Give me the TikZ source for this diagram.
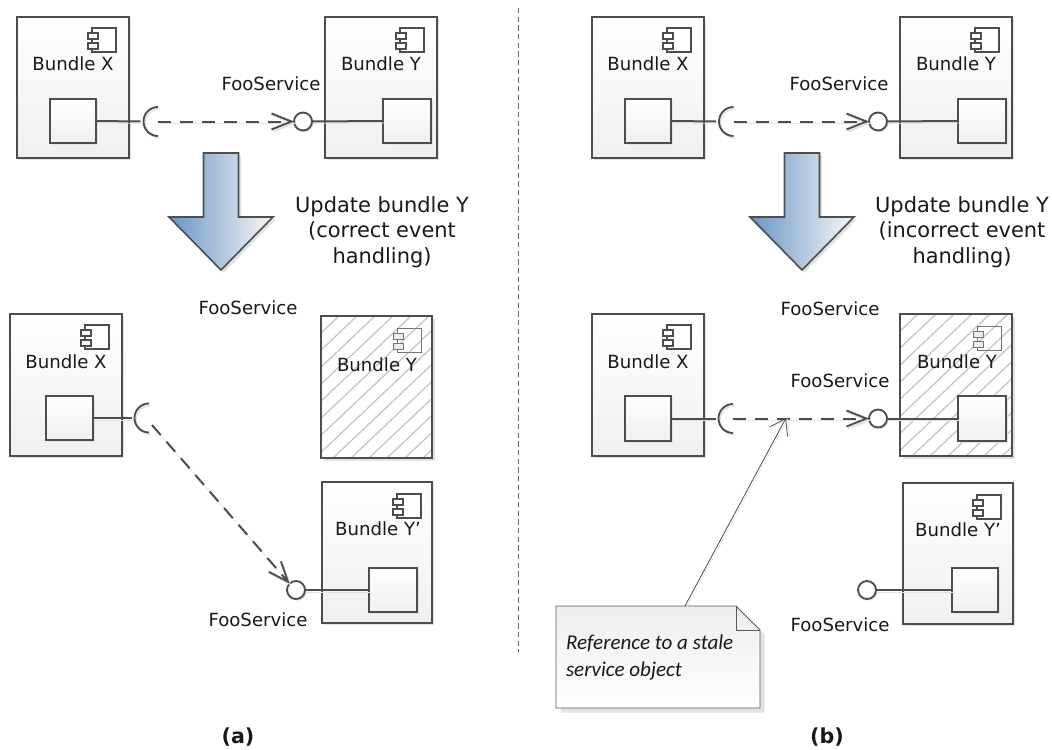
\documentclass[tikz,border=0pt]{standalone}
\usepackage{fontspec}
\setmainfont{DejaVu Sans}
\newfontfamily\notefont{Carlito}
\usetikzlibrary{arrows.meta,shadows}
\definecolor{ink}{HTML}{4D4D4D}
\definecolor{shadowc}{HTML}{E2E2E2}
\tikzset{
  x=0.75pt,y=-0.75pt,
  every node/.style={inner sep=0pt,outer sep=0pt,text=black!90},
  lbl/.style={font=\fontsize{13.6}{16}\selectfont},
  biglbl/.style={font=\fontsize{15.7}{18.5}\selectfont},
  uml/.style={draw=ink,line width=1.3pt,top color=white,bottom color=black!6,
    drop shadow={shadow xshift=1.5pt,shadow yshift=-1.5pt,fill=shadowc,opacity=1}},
  oldbox/.style={draw=ink,line width=1pt,fill=white,
    drop shadow={shadow xshift=2.5pt,shadow yshift=-2.5pt,fill=shadowc,opacity=1}},
  hatch/.style={draw=black!22,line width=1pt},
  conn/.style={draw=ink,line width=1.5pt,
    preaction={draw=shadowc,transform canvas={shift={(1.2pt,-1.5pt)}}}},
  dep/.style={conn,dash pattern=on 10pt off 6.5pt,-{Straight Barb[length=15pt,width=12pt,line width=1.4pt]}},
  lolly/.style={circle,draw=ink,line width=1.4pt,fill=white,minimum size=13.5pt,
    drop shadow={shadow xshift=1.2pt,shadow yshift=-1.2pt,fill=shadowc,opacity=1}},
  blockarrow/.style={draw=ink,line width=1.2pt,right color=black!3!white}
}
% name x1 y1 x2 y2
\newcommand{\umlbox}[5]{\node[uml,minimum width={(#4-#2)*0.75pt},minimum height={(#5-#3)*0.75pt}] (#1) at ({(#2+#4)/2},{(#3+#5)/2}) {};}
% component icon: body top-left corner
\newcommand{\compicon}[2]{%
  \draw[ink,line width=1pt,fill=white] (#1,#2) rectangle ++(24,24);
  \draw[ink,line width=1pt,fill=white] (#1-4,#2+5) rectangle ++(10,6);
  \draw[ink,line width=1pt,fill=white] (#1-4,#2+15) rectangle ++(10,6);}
\newcommand{\oldicon}[2]{%
  \draw[black!55,line width=0.7pt] (#1,#2) rectangle ++(24,24);
  \draw[black!55,line width=0.7pt,fill=black!8] (#1-4,#2+5) rectangle ++(10,6);
  \draw[black!55,line width=0.7pt,fill=black!8] (#1-4,#2+15) rectangle ++(10,6);}
% socket: name, centre x y
\newcommand{\socket}[3]{%
  \coordinate (#1) at (#2,#3);
  \coordinate (#1w) at (#2-14.5,#3);
  \draw[shadowc,line width=1.2pt] (#2+4.5,#3-12.5) arc[start angle=-90,delta angle=-180,radius=14.5];
  \draw[ink,line width=1.4pt] (#2+3,#3-14.5) arc[start angle=-90,delta angle=-180,radius=14.5];}
% hatched box: name x1 y1 x2 y2
\newcommand{\staleBox}[5]{%
  \node[oldbox,minimum width={(#4-#2)*0.75pt},minimum height={(#5-#3)*0.75pt}] (#1) at ({(#2+#4)/2},{(#3+#5)/2}) {};
  \begin{scope}
    \clip (#2,#3) rectangle (#4,#5);
    \foreach \k in {0,18,...,306}{\draw[hatch] ({#2+\k-150},#5) -- ({#2+\k},#3);}
  \end{scope}
  \draw[ink,line width=1pt] (#2,#3) rectangle (#4,#5);}
\newcommand{\thearrow}[1]{%
  \draw[blockarrow,left color={rgb,255:red,105;green,150;blue,196},
    drop shadow={shadow xshift=2pt,shadow yshift=-2pt,fill=shadowc,opacity=1}]
    (#1-17.5,153) -- (#1+17.5,153) -- (#1+17.5,217) -- (#1+52,217) -- (#1,270) -- (#1-52,217) -- (#1-17.5,217) -- cycle;}
\begin{document}
\begin{tikzpicture}
\useasboundingbox (0,0) rectangle (1052,749);
\fill[white] (0,0) rectangle (1052,749);

% divider
\coordinate (divtop) at (518,8);
\coordinate (divbot) at (518,652);
\draw[black!60,line width=0.6pt,dash pattern=on 4pt off 2.5pt] (divtop) -- (divbot);

%%% Panel (a), top
\umlbox{axb}{17}{17}{129}{158}
\compicon{92}{28}
\node[lbl] (axl) at (73,64) {Bundle X};
\umlbox{axp}{50}{99}{96}{143}
\umlbox{ayb}{325}{17}{437}{158}
\compicon{400}{28}
\node[lbl] (ayl) at (381,64) {Bundle Y};
\umlbox{ayp}{383}{99}{431}{143}
\node[lbl] (afs) at (271,84) {FooService};
\socket{as}{155}{121.5}
\node[lolly] (ac) at (303,121.5) {};
\draw[conn] (axp.east) -- (asw);
\draw[conn] (ac.east) -- (ayp.west);
\draw[dep] (as) ++(3,0) -- (ac.west);

\thearrow{221}
\node[biglbl,align=center] (aup) at (382,232) {Update bundle Y\\[0.8pt](correct event\\[0.8pt]handling)};

%%% Panel (a), bottom
\umlbox{cxb}{10}{314}{122}{456}
\compicon{85}{325}
\node[lbl] (cxl) at (66,362) {Bundle X};
\umlbox{cxp}{46}{396}{93}{440}
\node[lbl] (cfs1) at (248,308) {FooService};
\staleBox{cyb}{321}{316}{432}{458}
\oldicon{397}{328}
\node[lbl] (cyl) at (377,365) {Bundle Y};
\umlbox{cyb2}{322}{482}{432}{623}
\compicon{397}{494}
\node[lbl] (cyl2) at (378,529) {Bundle Y’};
\umlbox{cyp}{369}{568}{417}{612}
\socket{cs}{146}{418}
\node[lolly] (cc) at (296,590) {};
\draw[conn] (cxp.east) -- (csw);
\draw[conn] (cc.east) -- (cyp.west);
\draw[dep] (cs) ++(6,7) -- (cc.north west);
\node[lbl] (cfs2) at (258,620) {FooService};

%%% Panel (b), top
\umlbox{bxb}{592}{17}{704}{158}
\compicon{667}{28}
\node[lbl] (bxl) at (648,64) {Bundle X};
\umlbox{bxp}{625}{99}{671}{143}
\umlbox{byb}{900}{17}{1012}{158}
\compicon{975}{28}
\node[lbl] (byl) at (956,64) {Bundle Y};
\umlbox{byp}{958}{99}{1006}{143}
\node[lbl] (bfs) at (839,84) {FooService};
\socket{bs}{730.5}{121.5}
\node[lolly] (bc) at (878,121.5) {};
\draw[conn] (bxp.east) -- (bsw);
\draw[conn] (bc.east) -- (byp.west);
\draw[dep] (bs) ++(3,0) -- (bc.west);

\thearrow{802}
\node[biglbl,align=center] (bup) at (962,232) {Update bundle Y\\[0.8pt](incorrect event\\[0.8pt]handling)};

%%% Panel (b), bottom
\umlbox{dxb}{592}{314}{704}{456}
\compicon{667}{325}
\node[lbl] (dxl) at (648,362) {Bundle X};
\umlbox{dxp}{625}{396}{671}{441}
\node[lbl] (dfs1) at (830,309) {FooService};
\staleBox{dyb}{900}{314}{1012}{456}
\oldicon{977}{326}
\node[lbl] (dyl) at (957,362) {Bundle Y};
\umlbox{dyp}{958}{396}{1006}{441}
\node[lbl] (dfs2) at (840,381) {FooService};
\socket{ds}{730}{418.5}
\node[lolly] (dc) at (878,418.5) {};
\draw[conn] (dxp.east) -- (dsw);
\draw[conn] (dc.east) -- (dyp.west);
\draw[dep] (ds) ++(3,0) -- (dc.west);

\umlbox{dyb2}{903}{483}{1013}{624}
\compicon{977}{495}
\node[lbl] (dyl2) at (958,530) {Bundle Y’};
\umlbox{dyp2}{952}{568}{998}{612}
\node[lolly] (dc2) at (867,590) {};
\draw[conn] (dc2.east) -- (dyp2.west);
\node[lbl] (dfs3) at (840,625) {FooService};

%%% Note
\draw[black!65,line width=0.7pt,top color=black!7,bottom color=white,
  drop shadow={shadow xshift=3.5pt,shadow yshift=-3.5pt,fill=shadowc,opacity=1}]
  (556,606) -- (736,606) -- (760,630) -- (760,708) -- (556,708) -- cycle;
\draw[black!65,line width=0.7pt] (736,606) -- (736,630) -- (760,630);
\node[anchor=north west,align=left,font=\notefont\itshape\fontsize{15.8}{20}\selectfont] (note) at (566,635) {Reference to a stale\\service object};
\coordinate (notetop) at (685,606);
\coordinate (stale) at (786,418);
\draw[draw=ink,line width=0.6pt,preaction={draw=shadowc,transform canvas={shift={(1.5pt,-0.5pt)}}},
  -{Straight Barb[length=11pt,width=15pt,line width=0.6pt]}] (notetop) -- (stale);

%%% Captions
\node[font=\bfseries\fontsize{15.5}{17}\selectfont] (capa) at (238,737) {(a)};
\node[font=\bfseries\fontsize{15.5}{17}\selectfont] (capb) at (827,737) {(b)};
\end{tikzpicture}
\end{document}
